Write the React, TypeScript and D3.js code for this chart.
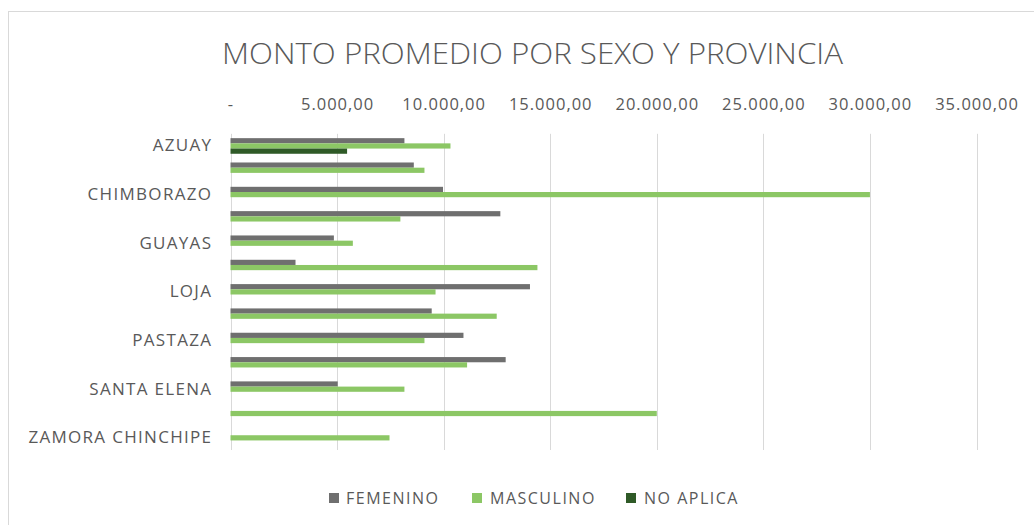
import React from "react";
import * as d3 from "d3";

const categories = [
  "AZUAY",
  "BOLÍVAR",
  "CHIMBORAZO",
  "COTOPAXI",
  "GUAYAS",
  "IMBABURA",
  "LOJA",
  "MANABÍ",
  "PASTAZA",
  "PICHINCHA",
  "SANTA ELENA",
  "SUCUMBÍOS",
  "ZAMORA CHINCHIPE",
];
const femenino: (number | null)[] = [8160, 8600, 9970, 12660, 4850, 3050, 14050, 9440, 10930, 12910, 5030, null, null];
const masculino: (number | null)[] = [10320, 9100, 30000, 7970, 5740, 14400, 9620, 12490, 9100, 11100, 8160, 20000, 7460];
const noAplica: (number | null)[] = [5470, null, null, null, null, null, null, null, null, null, null, null, null];

const seriesNames = ["FEMENINO", "MASCULINO", "NO APLICA"];
const seriesColors = ["#6f6f6f", "#8cc765", "#2f5a27"];
const seriesValues = [femenino, masculino, noAplica];
const xTicks = [0, 5000, 10000, 15000, 20000, 25000, 30000, 35000];

const fmt = (v: number) => {
  if (v === 0) return "-";
  const s = d3.format(",.2f")(v);
  return s.replace(/,/g, "#").replace(/\./g, ",").replace(/#/g, ".");
};

export default function App() {
  const W = 1034;
  const H = 525;
  const x = d3.scaleLinear().domain([0, 35000]).range([230.5, 976.5]);
  const y = d3.scaleBand<string>().domain(categories).range([133.8, 450]).paddingInner(0).paddingOuter(0);
  const groupH = 15.6;
  const sub = d3.scaleBand<string>().domain(seriesNames).range([0, groupH]);
  const textColor = "#595959";
  const font = "'Open Sans', sans-serif";

  const legendItems = [
    { x: 329, tx: 346 },
    { x: 472, tx: 490 },
    { x: 626, tx: 644 },
  ];

  return (
    <svg width={W} height={H} style={{ position: "absolute", left: 0, top: 0, background: "#fff" }}>
      <rect x={0} y={0} width={W} height={H} fill="#fff" />
      <rect x={8.5} y={11.5} width={1100} height={600} fill="#fff" stroke="#d9d9d9" strokeWidth={1} />
      <text
        x={222}
        y={64}
        fontFamily={font}
        fontWeight={300}
        fontSize={29}
        fill={textColor}
        textLength={621}
        lengthAdjust="spacingAndGlyphs"
      >
        MONTO PROMEDIO POR SEXO Y PROVINCIA
      </text>
      {/* gridlines */}
      {xTicks.map((t) => (
        <line
          key={"g" + t}
          x1={Math.round(x(t)) + 0.5}
          x2={Math.round(x(t)) + 0.5}
          y1={133.8}
          y2={450}
          stroke="#d9d9d9"
          strokeWidth={1}
        />
      ))}
      {/* tick labels */}
      {xTicks.map((t) => (
        <text
          key={"t" + t}
          x={x(t) + 0.5}
          y={110}
          textAnchor="middle"
          fontFamily={font}
          fontSize={16.5}
          letterSpacing={1}
          fill={textColor}
        >
          {fmt(t)}
        </text>
      ))}
      {/* bars */}
      {categories.map((c, i) => {
        const top = (y(c) as number) + (y.bandwidth() - groupH) / 2;
        return (
          <g key={c}>
            {seriesValues.map((vals, s) => {
              const v = vals[i];
              if (v == null) return null;
              return (
                <rect
                  key={s}
                  x={x(0)}
                  y={top + (sub(seriesNames[s]) as number)}
                  width={x(v) - x(0)}
                  height={sub.bandwidth()}
                  fill={seriesColors[s]}
                />
              );
            })}
          </g>
        );
      })}
      {/* category labels, every other */}
      {categories.map((c, i) =>
        i % 2 === 0 ? (
          <text
            key={"c" + c}
            x={211 + 1.3}
            y={(y(c) as number) + y.bandwidth() / 2 + 5.5}
            textAnchor="end"
            fontFamily={font}
            fontSize={17}
            letterSpacing={1.3}
            fill={textColor}
          >
            {c}
          </text>
        ) : null
      )}
      {/* legend */}
      {seriesNames.map((n, i) => (
        <g key={"l" + n}>
          <rect x={legendItems[i].x} y={493} width={10} height={10} fill={seriesColors[i]} />
          <text
            x={legendItems[i].tx}
            y={504}
            fontFamily={font}
            fontSize={16}
            letterSpacing={1.5}
            fill={textColor}
          >
            {n}
          </text>
        </g>
      ))}
    </svg>
  );
}
